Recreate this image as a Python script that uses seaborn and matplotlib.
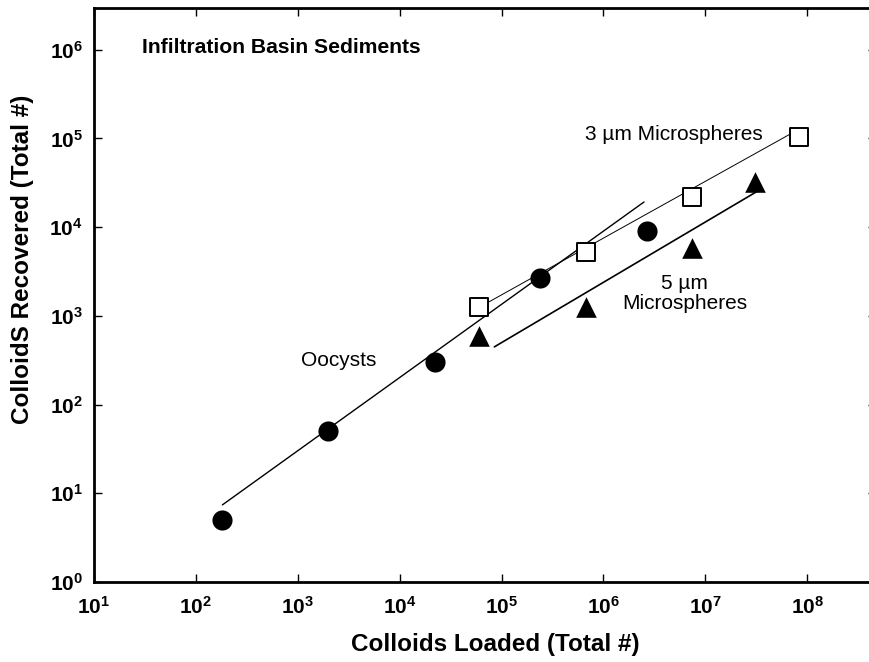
import math

import matplotlib
matplotlib.use("Agg")
import matplotlib.pyplot as plt
import matplotlib.ticker as mticker
import pandas as pd
import seaborn as sns

# values (log-log)
oocyst_loaded = [180, 2000, 22000, 240000, 2.7e6]
oocyst_recovered = [5, 50, 300, 2700, 9000]

ms3_loaded = [6.0e4, 6.7e5, 7.4e6, 8.3e7]
ms3_recovered = [1260, 5250, 2.2e4, 1.05e5]

ms5_loaded = [6.0e4, 6.7e5, 7.4e6, 3.1e7]
ms5_recovered = [590, 1260, 5800, 3.2e4]

# fitted lines (end points)
oocyst_fit_x = [182, 2.5e6]
oocyst_fit_y = [7.4, 1.92e4]
ms3_fit_x = [6.9e4, 7.1e7]
ms3_fit_y = [1360, 1.15e5]
ms5_fit_x = [8.5e4, 3.3e7]
ms5_fit_y = [447, 2.57e4]

x_ticks = [10 ** i for i in range(1, 9)]
y_ticks = [10 ** i for i in range(0, 7)]

sns.set_style("ticks")
plt.rcParams["font.family"] = ["Liberation Sans", "DejaVu Sans"]
plt.rcParams["mathtext.fontset"] = "custom"
plt.rcParams["mathtext.rm"] = "Liberation Sans:bold"
plt.rcParams["mathtext.it"] = "Liberation Sans:bold"
plt.rcParams["mathtext.bf"] = "Liberation Sans:bold"
plt.rcParams["text.color"] = "black"
plt.rcParams["axes.labelcolor"] = "black"
plt.rcParams["axes.edgecolor"] = "black"

fig = plt.figure(figsize=(8.7, 6.62), dpi=100)
ax = fig.add_axes([94 / 870, 80 / 662, 782 / 870, 574 / 662])

df_oo = pd.DataFrame({"loaded": oocyst_loaded, "recovered": oocyst_recovered})
df_3 = pd.DataFrame({"loaded": ms3_loaded, "recovered": ms3_recovered})
df_5 = pd.DataFrame({"loaded": ms5_loaded, "recovered": ms5_recovered})

ax.set_xscale("log")
ax.set_yscale("log")

sns.lineplot(x=oocyst_fit_x, y=oocyst_fit_y, ax=ax, color="black", linewidth=1.0)
sns.lineplot(x=ms3_fit_x, y=ms3_fit_y, ax=ax, color="black", linewidth=0.7)
sns.lineplot(x=ms5_fit_x, y=ms5_fit_y, ax=ax, color="black", linewidth=1.2)

sns.scatterplot(data=df_oo, x="loaded", y="recovered", ax=ax, marker="o",
                s=210, color="black", edgecolor="black", linewidth=0, zorder=3)
sns.scatterplot(data=df_3, x="loaded", y="recovered", ax=ax, marker="s",
                s=175, facecolor="white", edgecolor="black", linewidth=1.4, zorder=3)
sns.scatterplot(data=df_5, x="loaded", y="recovered", ax=ax, marker="^",
                s=220, color="black", edgecolor="black", linewidth=0, zorder=3)

ax.set_xlim(10, 10 ** 8.675)
ax.set_ylim(1, 10 ** 6.47)
ax.xaxis.set_major_locator(mticker.FixedLocator(x_ticks))
ax.yaxis.set_major_locator(mticker.FixedLocator(y_ticks))
ax.xaxis.set_minor_locator(mticker.NullLocator())
ax.yaxis.set_minor_locator(mticker.NullLocator())
fmt = mticker.FuncFormatter(lambda v, p: r"$10^{%d}$" % round(math.log10(v)))
ax.xaxis.set_major_formatter(fmt)
ax.yaxis.set_major_formatter(fmt)
ax.tick_params(direction="in", length=6, width=1.0, top=True, right=True,
               labelsize=15, colors="black")
ax.tick_params(axis="x", pad=10)
ax.tick_params(axis="y", pad=8)

for side in ["left", "bottom", "top"]:
    ax.spines[side].set_linewidth(2.0)
ax.spines["right"].set_visible(False)

ax.set_xlabel("Colloids Loaded (Total #)", fontsize=17.5, fontweight="bold")
ax.set_ylabel("ColloidS Recovered (Total #)", fontsize=17.5, fontweight="bold")
ax.xaxis.set_label_coords(0.513, -0.088)
ax.yaxis.set_label_coords(-0.077, 0.563)

ax.text(0.061, 0.932, "Infiltration Basin Sediments", transform=ax.transAxes,
        fontsize=15.2, fontweight="bold", va="center", ha="left")
ax.text(5.9e3, 310, "Oocysts", fontsize=15, ha="right", va="center")
ax.text(4.9e6, 1.1e5, "3 \u00b5m Microspheres", fontsize=15, ha="center", va="center")
ax.text(6.3e6, 1.78e3, "5 \u00b5m\nMicrospheres", fontsize=15, ha="center", va="center",
        linespacing=1.05, multialignment="center")

fig.savefig("out.png", dpi=100)
